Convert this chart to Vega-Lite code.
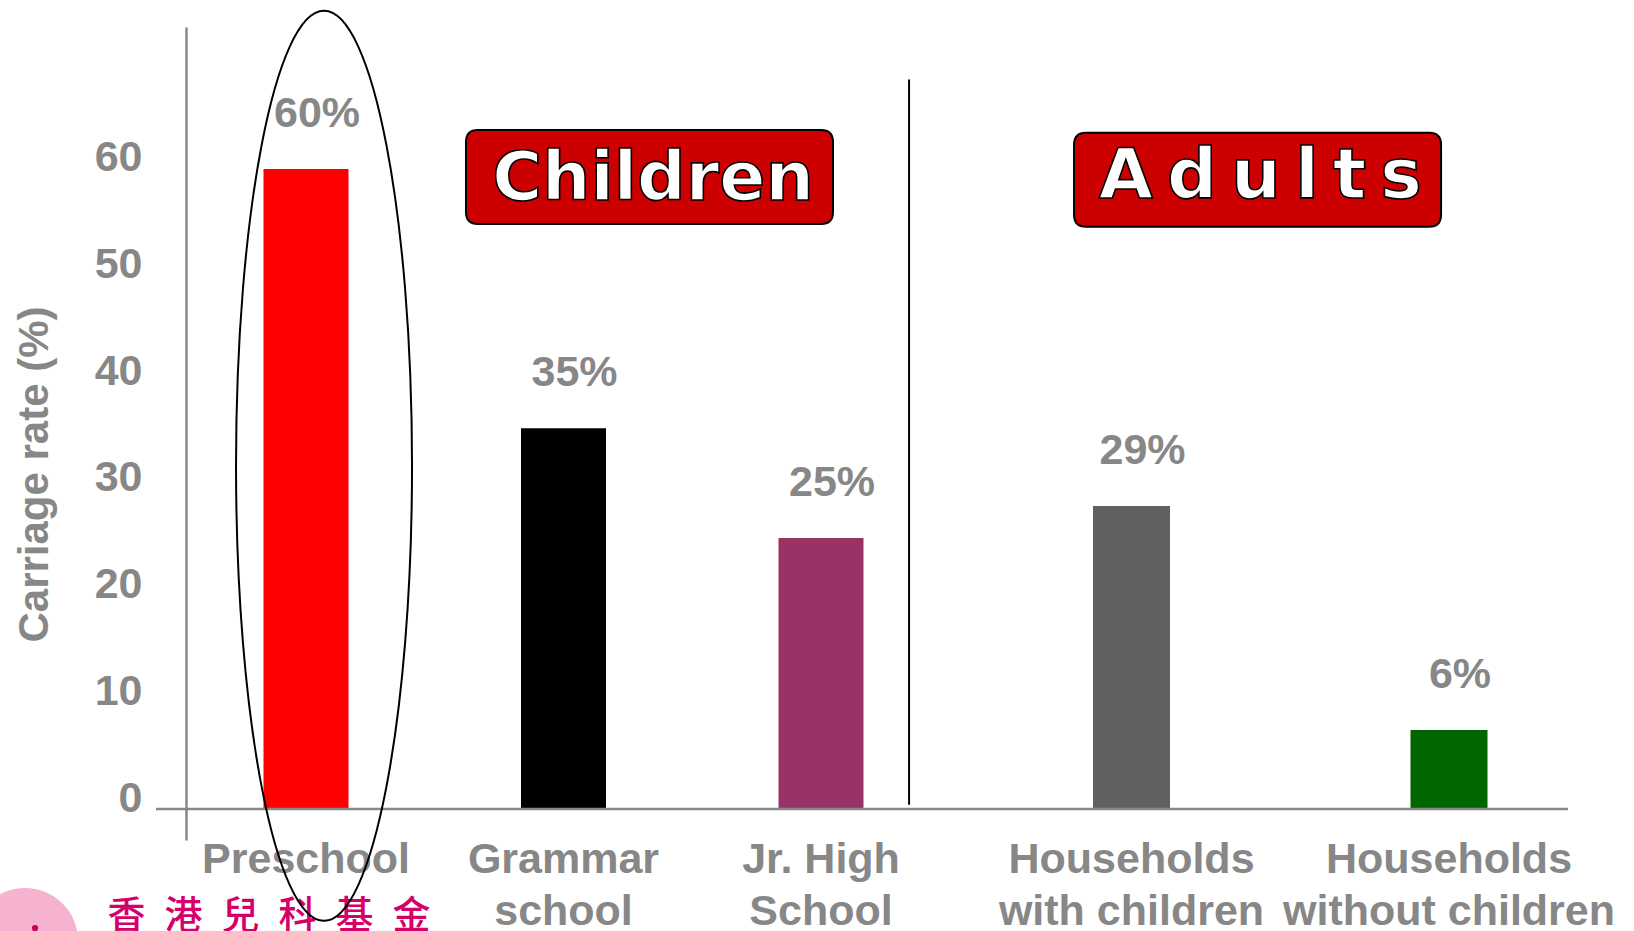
{
  "$schema": "https://vega.github.io/schema/vega-lite/v6.json",
  "autosize": {"type": "none"},
  "width": 1412,
  "height": 813,
  "padding": {"left": 156, "top": 27, "right": 66, "bottom": 91},
  "background": "white",
  "config": {"view": {"stroke": null}, "font": "Liberation Sans"},
  "data": {
    "values": [
      {"category": "Preschool", "group": "Children", "value": 60.0, "label": "60%"},
      {"category": "Grammar school", "group": "Children", "value": 35.7, "label": "35%"},
      {"category": "Jr. High School", "group": "Children", "value": 25.4, "label": "25%"},
      {"category": "Households with children", "group": "Adults", "value": 28.4, "label": "29%"},
      {"category": "Households without children", "group": "Adults", "value": 7.4, "label": "6%"}
    ]
  },
  "resolve": {"scale": {"x": "independent"}, "axis": {"x": "independent"}},
  "layer": [
    {
      "data": {"values": [{}]},
      "mark": {"type": "point", "shape": "circle", "size": 11236, "filled": true, "fill": "#f5b3cf", "strokeWidth": 0, "opacity": 1},
      "encoding": {
        "x": {"datum": "Preschool", "type": "nominal", "bandPosition": -0.591, "axis": null,
          "scale": {"type": "band", "domain": ["Preschool", "Grammar school", "Jr. High School"], "range": [21.25, 793.75], "paddingInner": 0, "paddingOuter": 0}},
        "y": {"datum": -12.37, "type": "quantitative"}
      }
    },
    {
      "data": {"values": [{}]},
      "mark": {"type": "point", "shape": "circle", "size": 40, "filled": true, "fill": "#c8005a", "strokeWidth": 0, "opacity": 1},
      "encoding": {
        "x": {"datum": "Preschool", "type": "nominal", "bandPosition": -0.5524, "axis": null,
          "scale": {"type": "band", "domain": ["Preschool", "Grammar school", "Jr. High School"], "range": [21.25, 793.75], "paddingInner": 0, "paddingOuter": 0}},
        "y": {"datum": -11.16, "type": "quantitative"}
      }
    },
    {
      "data": {"values": [{"t": "香\u2002港\u2002兒\u2002科\u2002基\u2002金"}]},
      "mark": {"type": "text", "fontSize": 38, "fontWeight": 500, "font": "Noto Sans CJK TC", "fill": "#d6006b", "baseline": "alphabetic", "align": "center"},
      "encoding": {
        "x": {"datum": "Preschool", "type": "nominal", "bandPosition": 0.356, "axis": null,
          "scale": {"type": "band", "domain": ["Preschool", "Grammar school", "Jr. High School"], "range": [21.25, 793.75], "paddingInner": 0, "paddingOuter": 0}},
        "y": {"datum": -11.15, "type": "quantitative"},
        "text": {"field": "t"}
      }
    },
    {
      "transform": [{"filter": "datum.group == 'Children'"}],
      "mark": {"type": "bar", "width": 85},
      "encoding": {
        "x": {
          "field": "category", "type": "nominal",
          "scale": {"type": "band", "domain": ["Preschool", "Grammar school", "Jr. High School"], "range": [21.25, 793.75], "paddingInner": 0, "paddingOuter": 0},
          "axis": {
            "orient": "bottom", "title": null, "offset": -31, "ticks": false, "domain": false,
            "labelPadding": 29, "labelFontSize": 43, "labelFontWeight": "bold", "labelColor": "#878787",
            "labelFont": "Liberation Sans", "labelLineHeight": 52, "labelAngle": 0, "labelBaseline": "top", "labelLimit": 600,
            "labelExpr": "datum.label == 'Grammar school' ? ['Grammar','school'] : datum.label == 'Jr. High School' ? ['Jr. High','School'] : datum.label"
          }
        },
        "y": {
          "field": "value", "type": "quantitative",
          "scale": {"domain": [-2.906, 73.31], "nice": false, "zero": false},
          "axis": {
            "orient": "left", "offset": -30, "values": [0, 10, 20, 30, 40, 50, 60], "grid": false, "ticks": false,
            "domain": true, "domainColor": "#888888", "domainWidth": 2.5,
            "labelPadding": 44, "labelFontSize": 43, "labelFontWeight": "bold", "labelColor": "#878787",
            "labelFont": "Liberation Sans", "labelOffset": -11,
            "title": "Carriage rate (%)", "titleFontSize": 42, "titleFontWeight": "bold", "titleColor": "#878787",
            "titleFont": "Liberation Sans", "titleX": -152, "titleY": 447, "titleAngle": -90,
            "titleAlign": "center", "titleBaseline": "middle"
          }
        },
        "color": {
          "field": "category", "type": "nominal", "legend": null,
          "scale": {
            "domain": ["Preschool", "Grammar school", "Jr. High School", "Households with children", "Households without children"],
            "range": ["#ff0000", "#000000", "#993366", "#606060", "#006600"]
          }
        }
      }
    },
    {
      "transform": [{"filter": "datum.group == 'Children'"}],
      "mark": {"type": "text", "fontSize": 43, "fontWeight": "bold", "color": "#878787", "font": "Liberation Sans", "baseline": "alphabetic", "align": "center", "dx": 11, "dy": -42},
      "encoding": {
        "x": {"field": "category", "type": "nominal", "axis": null,
          "scale": {"type": "band", "domain": ["Preschool", "Grammar school", "Jr. High School"], "range": [21.25, 793.75], "paddingInner": 0, "paddingOuter": 0}},
        "y": {"field": "value", "type": "quantitative"},
        "text": {"field": "label"}
      }
    },
    {
      "transform": [{"filter": "datum.group == 'Adults'"}],
      "mark": {"type": "bar", "width": 77},
      "encoding": {
        "x": {
          "field": "category", "type": "nominal",
          "scale": {"type": "band", "domain": ["Households with children", "Households without children"], "range": [816.75, 1451.75], "paddingInner": 0, "paddingOuter": 0},
          "axis": {
            "orient": "bottom", "title": null, "offset": -31, "ticks": false, "domain": false,
            "labelPadding": 29, "labelFontSize": 43, "labelFontWeight": "bold", "labelColor": "#878787",
            "labelFont": "Liberation Sans", "labelLineHeight": 52, "labelAngle": 0, "labelBaseline": "top", "labelLimit": 600,
            "labelExpr": "datum.label == 'Households with children' ? ['Households','with children'] : datum.label == 'Households without children' ? ['Households','without children'] : datum.label"
          }
        },
        "y": {"field": "value", "type": "quantitative"},
        "color": {"field": "category", "type": "nominal", "legend": null}
      }
    },
    {
      "transform": [{"filter": "datum.group == 'Adults'"}],
      "mark": {"type": "text", "fontSize": 43, "fontWeight": "bold", "color": "#878787", "font": "Liberation Sans", "baseline": "alphabetic", "align": "center", "dx": 11, "dy": -42},
      "encoding": {
        "x": {"field": "category", "type": "nominal", "axis": null,
          "scale": {"type": "band", "domain": ["Households with children", "Households without children"], "range": [816.75, 1451.75], "paddingInner": 0, "paddingOuter": 0}},
        "y": {"field": "value", "type": "quantitative"},
        "text": {"field": "label"}
      }
    },
    {
      "data": {"values": [{}]},
      "mark": {"type": "rule", "color": "#888888", "strokeWidth": 2.5},
      "encoding": {
        "y": {"datum": 0, "type": "quantitative"}
      }
    },
    {
      "data": {"values": [{}]},
      "mark": {"type": "rule", "color": "black", "strokeWidth": 2},
      "encoding": {
        "x": {"datum": "Jr. High School", "type": "nominal", "bandPosition": 0.842, "axis": null,
          "scale": {"type": "band", "domain": ["Preschool", "Grammar school", "Jr. High School"], "range": [21.25, 793.75], "paddingInner": 0, "paddingOuter": 0}},
        "y": {"datum": 68.4, "type": "quantitative"},
        "y2": {"datum": 0.4}
      }
    },
    {
      "data": {"values": [{}]},
      "mark": {"type": "point", "shape": "M-0.9346,-0.2561L0.9346,-0.2561Q1,-0.2561,1,-0.1907L1,0.1907Q1,0.2561,0.9346,0.2561L-0.9346,0.2561Q-1,0.2561,-1,0.1907L-1,-0.1907Q-1,-0.2561,-0.9346,-0.2561Z", "size": 134689, "filled": true, "fill": "#cc0000", "stroke": "black", "strokeWidth": 2, "opacity": 1},
      "encoding": {
        "x": {"datum": "Grammar school", "type": "nominal", "bandPosition": 0.834, "axis": null,
          "scale": {"type": "band", "domain": ["Preschool", "Grammar school", "Jr. High School"], "range": [21.25, 793.75], "paddingInner": 0, "paddingOuter": 0}},
        "y": {"datum": 59.25, "type": "quantitative"}
      }
    },
    {
      "data": {"values": [{"t": "Children"}]},
      "mark": {"type": "text", "fontSize": 68, "fontWeight": "bold", "font": "DejaVu Sans", "fill": "white", "stroke": "black", "strokeWidth": 1.6, "baseline": "alphabetic", "align": "center"},
      "encoding": {
        "x": {"datum": "Grammar school", "type": "nominal", "bandPosition": 0.8476, "axis": null,
          "scale": {"type": "band", "domain": ["Preschool", "Grammar school", "Jr. High School"], "range": [21.25, 793.75], "paddingInner": 0, "paddingOuter": 0}},
        "y": {"datum": 57.09, "type": "quantitative"},
        "text": {"field": "t"}
      }
    },
    {
      "data": {"values": [{}]},
      "mark": {"type": "point", "shape": "M-0.9346,-0.2561L0.9346,-0.2561Q1,-0.2561,1,-0.1907L1,0.1907Q1,0.2561,0.9346,0.2561L-0.9346,0.2561Q-1,0.2561,-1,0.1907L-1,-0.1907Q-1,-0.2561,-0.9346,-0.2561Z", "size": 134689, "filled": true, "fill": "#cc0000", "stroke": "black", "strokeWidth": 2, "opacity": 1},
      "encoding": {
        "x": {"datum": "Households with children", "type": "nominal", "bandPosition": 0.897, "axis": null,
          "scale": {"type": "band", "domain": ["Households with children", "Households without children"], "range": [816.75, 1451.75], "paddingInner": 0, "paddingOuter": 0}},
        "y": {"datum": 59.0, "type": "quantitative"}
      }
    },
    {
      "data": {"values": [{"t": "A\u2009d\u2009u\u2009l\u2009t\u2009s"}]},
      "mark": {"type": "text", "fontSize": 70, "fontWeight": "bold", "font": "DejaVu Sans", "fill": "white", "stroke": "black", "strokeWidth": 1.6, "baseline": "alphabetic", "align": "center"},
      "encoding": {
        "x": {"datum": "Households with children", "type": "nominal", "bandPosition": 0.906, "axis": null,
          "scale": {"type": "band", "domain": ["Households with children", "Households without children"], "range": [816.75, 1451.75], "paddingInner": 0, "paddingOuter": 0}},
        "y": {"datum": 57.28, "type": "quantitative"},
        "text": {"field": "t"}
      }
    },
    {
      "data": {"values": [{}]},
      "mark": {"type": "point", "shape": "M0,-1C0.1068,-1,0.1934,-0.5523,0.1934,0C0.1934,0.5523,0.1068,1,0,1C-0.1068,1,-0.1934,0.5523,-0.1934,0C-0.1934,-0.5523,-0.1068,-1,0,-1Z", "size": 828100, "filled": false, "stroke": "black", "strokeWidth": 2, "opacity": 1},
      "encoding": {
        "x": {"datum": "Preschool", "type": "nominal", "bandPosition": 0.57, "axis": null,
          "scale": {"type": "band", "domain": ["Preschool", "Grammar school", "Jr. High School"], "range": [21.25, 793.75], "paddingInner": 0, "paddingOuter": 0}},
        "y": {"datum": 32.17, "type": "quantitative"}
      }
    }
  ]
}
